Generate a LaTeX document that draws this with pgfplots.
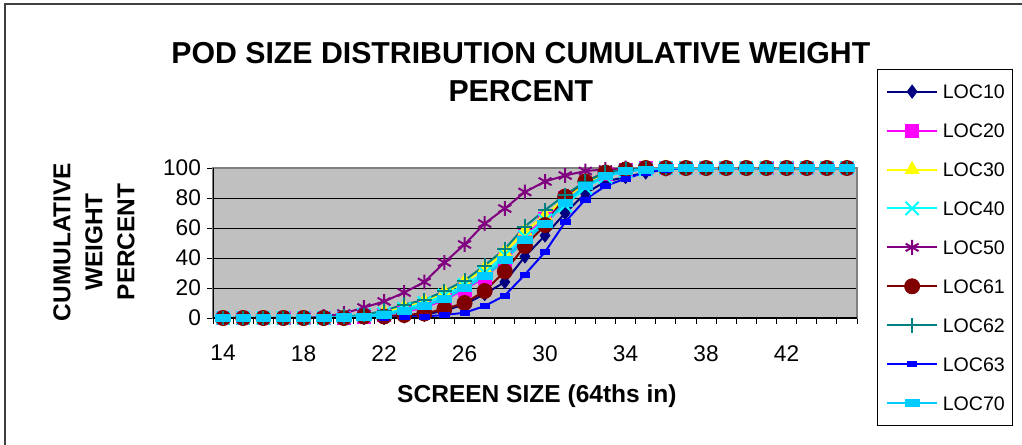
\documentclass[border=0pt]{standalone}
\usepackage{pgfplots}
\pgfplotsset{compat=1.18}
\usepackage{pgfplotstable}
\usepackage{fontspec}
\setmainfont{Liberation Sans}
\definecolor{c10}{RGB}{0,0,128}
\definecolor{c20}{RGB}{255,0,255}
\definecolor{c30}{RGB}{255,255,0}
\definecolor{c40}{RGB}{0,255,255}
\definecolor{c50}{RGB}{128,0,128}
\definecolor{c61}{RGB}{128,0,0}
\definecolor{c62}{RGB}{0,128,128}
\definecolor{c63}{RGB}{0,0,255}
\definecolor{c70}{RGB}{0,204,255}
\definecolor{plotbg}{RGB}{192,192,192}
\pgfdeclareplotmark{hbar}{%
  \pgfpathrectangle{\pgfqpoint{-1.6\pgfplotmarksize}{-0.8\pgfplotmarksize}}{\pgfqpoint{3.2\pgfplotmarksize}{1.6\pgfplotmarksize}}%
  \pgfusepathqfillstroke}
\pgfplotstableread{
x  L10 L20 L30 L40 L50 L61 L62 L63 L70
14 0 0 0 0 0 0 0 0 0
15 0 0 0 0 0 0 0 0 0
16 0 0 0 0 0 0 0 0 0
17 0 0 0 0 0 0 0 0 0
18 0 0 0 0 0 0 0 0 0
19 0 0 0 0 1 0 0 0 0
20 0 0 1 1 3 0 1 0 0.5
21 0 1 2 2 7 1 2 0 1
22 0 2 4 3 11 1 5 0 2
23 1 4 7 6 17 2 9 0.5 5
24 2 7 11 10 24 3 12 1 8
25 5 12 17 15 37 6 18 2 13
26 9 19 24 22 49 10 25 3.5 20
27 16 27 33 30 63 18 35 8 28
28 24 39 44 42 73 31 46 15 39
29 41 55 58 54 84 48 61 29 52
30 55 66 68 65 91 62 72 44 63
31 70 80 80 75 95 81 82 64 77
32 83 90 90 87 98 91 91 79 88
33 91 96 96 94 99 97 97 88 95
34 94 99 99 98 100 99 99 93 98
35 97 100 100 99 100 100 100 97 99
36 99 100 100 100 100 100 100 99 100
37 100 100 100 100 100 100 100 100 100
38 100 100 100 100 100 100 100 100 100
39 100 100 100 100 100 100 100 100 100
40 100 100 100 100 100 100 100 100 100
41 100 100 100 100 100 100 100 100 100
42 100 100 100 100 100 100 100 100 100
43 100 100 100 100 100 100 100 100 100
44 100 100 100 100 100 100 100 100 100
45 100 100 100 100 100 100 100 100 100
}\datatable
\begin{document}
\begin{tikzpicture}
\useasboundingbox (0pt,0pt) rectangle (766.5pt,333pt);
\draw[line width=1pt, black!75] (3.75pt,-2pt) -- (3.75pt,330pt) -- (770pt,330pt);
\begin{axis}[
  at={(159.75pt,94.5pt)}, anchor=south west,
  scale only axis, width=483pt, height=112.5pt,
  xmin=13.5, xmax=45.5, ymin=0, ymax=100,
  axis background/.style={fill=plotbg},
  axis line style={draw=black!50, line width=1pt},
  ytick={0,20,...,100},
  xtick={13.5,14.5,...,45.5}, xticklabels={},
  extra x ticks={14,18,...,42},
  tick align=outside, tick pos=left,
  major tick length=4.5pt,
  tick style={black, line width=0.75pt},
  ymajorgrids, major grid style={black, line width=0.75pt},
  /pgf/number format/assume math mode=true,
  tick label style={font=\fontsize{17}{20}\selectfont},
  yticklabel style={xshift=-1pt},
  extra x tick labels={14,18,22,26,30,34,38,42},
  extra x tick style={major tick length=0pt, grid=none, xticklabel style={yshift=-17pt}},
  title={POD SIZE DISTRIBUTION CUMULATIVE WEIGHT\\PERCENT},
  title style={font=\fontsize{22.7}{28.5}\selectfont\bfseries, align=center, at={(0.478,1)}, anchor=south, yshift=40pt},
  ylabel={CUMULATIVE\\WEIGHT\\PERCENT},
  ylabel style={font=\fontsize{18.3}{24}\selectfont\bfseries, align=center, at={(-0.185,0.507)}, anchor=center},
  xlabel={SCREEN SIZE (64ths in)},
  xlabel style={font=\fontsize{18.4}{22}\selectfont\bfseries, at={(0.503,0)}, anchor=center, yshift=-58.5pt},
  legend style={at={(1.031,1.66)}, anchor=north west, draw=black, line width=0.75pt,
    font=\fontsize{14.7}{17}\selectfont, inner xsep=6pt, inner ysep=2pt,
    row sep=0pt, column sep=3pt,
    nodes={inner sep=0pt, text height=19.8pt, text depth=9.4pt}},
  legend cell align=left,
  legend image code/.code={\draw[mark repeat=2,mark phase=2] plot coordinates {(0pt,0pt) (19pt,0pt) (38pt,0pt)};},
  every axis plot/.append style={line width=1.5pt},
]
\addplot[color=c10, mark=diamond*, mark size=5pt, mark options={solid, line width=0.5pt}] table[x=x,y=L10] {\datatable};
\addlegendentry{LOC10}
\addplot[color=c20, mark=square*, mark size=4.8pt, mark options={solid, line width=0.5pt}] table[x=x,y=L20] {\datatable};
\addlegendentry{LOC20}
\addplot[color=c30, mark=triangle*, mark size=6pt, mark options={solid, line width=0.5pt}] table[x=x,y=L30] {\datatable};
\addlegendentry{LOC30}
\addplot[color=c40, mark=x, mark size=7pt, mark options={solid, line width=1.5pt}] table[x=x,y=L40] {\datatable};
\addlegendentry{LOC40}
\addplot[color=c50, mark=asterisk, mark size=5.6pt, mark options={solid, line width=1.5pt}] table[x=x,y=L50] {\datatable};
\addlegendentry{LOC50}
\addplot[color=c61, mark=*, mark size=5.7pt, mark options={solid, line width=0.5pt}] table[x=x,y=L61] {\datatable};
\addlegendentry{LOC61}
\addplot[color=c62, mark=+, mark size=5.6pt, mark options={solid, line width=1.5pt}] table[x=x,y=L62] {\datatable};
\addlegendentry{LOC62}
\addplot[color=c63, mark=hbar, mark size=2.2pt, mark options={solid, line width=0.5pt}] table[x=x,y=L63] {\datatable};
\addlegendentry{LOC63}
\addplot[color=c70, line width=2pt, mark=hbar, mark size=3.4pt, mark options={solid, line width=0.5pt}] table[x=x,y=L70] {\datatable};
\addlegendentry{LOC70}
\draw[black, line width=1pt] (rel axis cs:0,0) -- (rel axis cs:0,1);
\draw[black, line width=1pt] (rel axis cs:0,0) -- (rel axis cs:1,0);
\end{axis}
\end{tikzpicture}
\end{document}
